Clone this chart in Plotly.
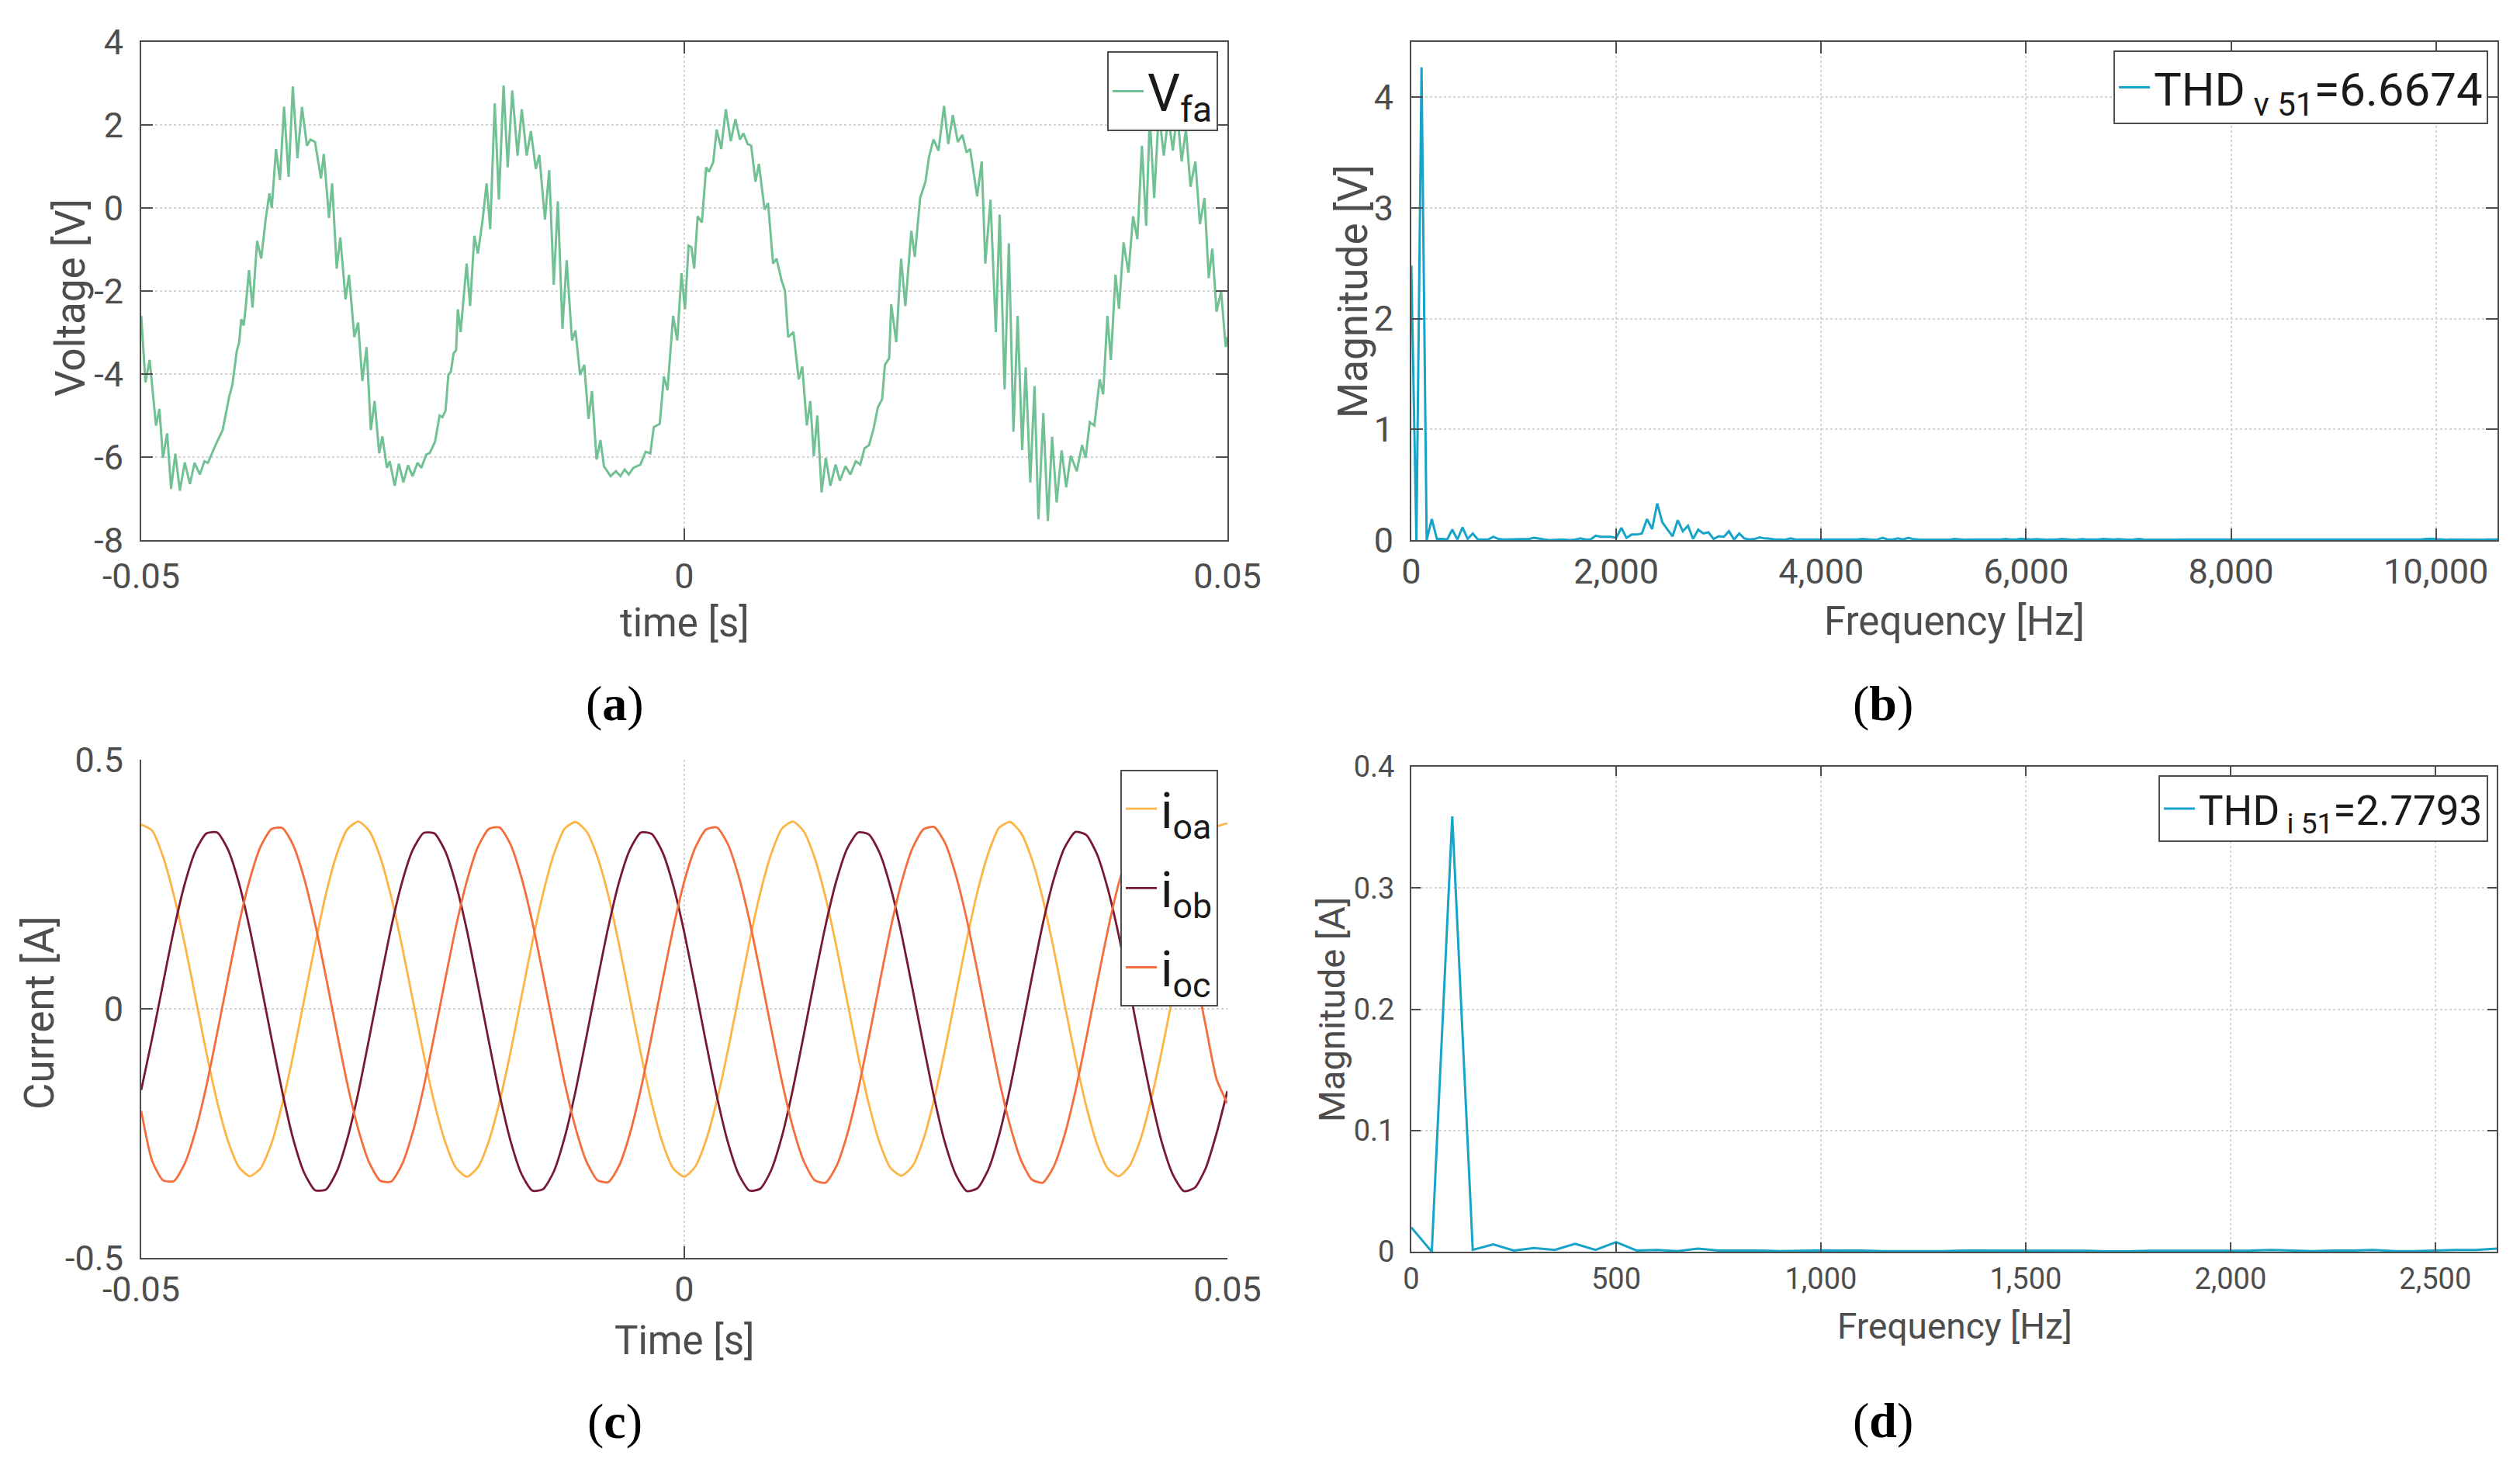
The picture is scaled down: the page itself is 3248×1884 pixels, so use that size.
import plotly.graph_objects as go

# ---------------- data ----------------
# (a) phase voltage V_fa : time [ms], voltage [V]
va_t_ms = [-50.00, -49.61, -49.22, -48.64, -48.32, -48.00, -47.61, -47.25, -46.86, -46.44,
           -45.99, -45.51, -45.09, -44.60, -44.18, -43.86, -43.15, -42.50, -41.92, -41.60,
           -41.21, -40.98, -40.79, -40.56, -40.37, -40.08, -39.75, -39.33, -38.95, -38.56,
           -38.20, -37.98, -37.59, -37.23, -36.85, -36.43, -36.04, -35.62, -35.20, -34.74,
           -34.42, -34.00, -33.45, -33.19, -32.71, -32.42, -32.00, -31.67, -31.19, -30.87,
           -30.38, -30.03, -29.64, -29.25, -28.86, -28.51, -28.09, -27.80, -27.38, -27.12,
           -26.66, -26.28, -25.86, -25.44, -25.02, -24.56, -24.21, -23.76, -23.43, -22.95,
           -22.53, -22.27, -21.98, -21.72, -21.49, -21.24, -21.01, -20.85, -20.59, -20.04,
           -19.72, -19.33, -19.00, -18.58, -18.20, -17.87, -17.45, -17.07, -16.64, -16.26,
           -15.84, -15.35, -14.96, -14.51, -14.12, -13.67, -13.35, -12.83, -12.44, -12.02,
           -11.64, -11.22, -10.83, -10.34, -10.02, -9.60, -9.21, -8.82, -8.50, -8.08,
           -7.72, -7.40, -6.79, -6.30, -5.88, -5.49, -5.11, -4.69, -4.04, -3.56,
           -3.13, -2.81, -2.26, -1.88, -1.55, -1.03, -0.65, -0.26,
           0.06, 0.39, 0.65, 0.91, 1.23, 1.62, 2.01, 2.27, 2.66, 2.98,
           3.40, 3.82, 4.28, 4.70, 5.12, 5.44, 5.83, 6.16, 6.55, 6.87,
           7.39, 7.71, 8.17, 8.49, 8.94, 9.27, 9.56, 10.05, 10.53, 10.86,
           11.28, 11.60, 11.92, 12.25, 12.64, 13.03, 13.45, 13.93, 14.32, 14.84,
           15.29, 15.78, 16.20, 16.59, 17.01, 17.43, 17.82, 18.21, 18.47, 18.86,
           19.05, 19.51, 19.96, 20.35, 20.90, 21.22, 21.71, 22.20, 22.52, 22.94,
           23.40, 23.91, 24.30, 24.72, 25.18, 25.60, 25.99, 26.31, 26.96, 27.38,
           27.71, 28.19, 28.68, 29.03, 29.49, 29.88, 30.30, 30.69, 31.11, 31.43,
           31.85, 32.24, 32.60, 33.05, 33.47, 33.86, 34.28, 34.74, 35.16, 35.58,
           36.13, 36.62, 36.94, 37.33, 37.75, 38.24, 38.56, 38.95, 39.27, 39.70,
           40.02, 40.44, 40.89, 41.32, 41.71, 42.13, 42.52, 42.85, 43.26, 43.69,
           44.14, 44.56, 44.98, 45.37, 45.79, 46.18, 46.60, 47.05, 47.47, 47.89,
           48.28, 48.61, 49.00, 49.42, 49.84, 50.00]
va_volt = [-2.60, -4.20, -3.66, -5.24, -4.84, -6.02, -5.43, -6.77, -5.92, -6.81,
           -6.13, -6.65, -6.14, -6.42, -6.10, -6.14, -5.71, -5.35, -4.57, -4.25,
           -3.46, -3.23, -2.68, -2.83, -2.36, -1.50, -2.40, -0.79, -1.22, -0.31,
           0.35, 0.00, 1.42, 0.67, 2.44, 0.75, 2.93, 1.20, 2.43, 1.50,
           1.65, 1.59, 0.71, 1.30, -0.24, 0.59, -1.46, -0.71, -2.20, -1.61,
           -3.11, -2.76, -4.17, -3.35, -5.35, -4.65, -5.91, -5.50, -6.26, -6.10,
           -6.69, -6.16, -6.61, -6.20, -6.46, -6.14, -6.26, -5.94, -5.90, -5.63,
           -5.00, -5.04, -4.88, -4.02, -3.94, -3.50, -3.43, -2.44, -2.99, -1.34,
           -2.36, -0.67, -1.10, -0.31, 0.59, -0.51, 2.52, 0.20, 2.95, 0.98,
           2.83, 1.26, 2.38, 1.26, 1.85, 0.94, 1.28, -0.28, 0.91, -1.85,
           0.16, -2.91, -1.26, -3.19, -2.95, -4.02, -3.78, -5.08, -4.41, -6.06,
           -5.59, -6.22, -6.46, -6.34, -6.46, -6.30, -6.42, -6.26, -6.18, -5.87,
           -5.91, -5.28, -5.20, -4.06, -4.39, -2.60, -3.19, -1.57,
           -2.44, -0.91, -0.94, -1.46, -0.20, -0.35, 0.98, 0.87, 1.10, 1.89,
           1.42, 2.38, 1.61, 2.14, 1.65, 1.80, 1.54, 1.50, 0.63, 1.06,
           -0.04, 0.12, -1.34, -1.22, -1.73, -2.00, -3.11, -2.99, -4.13, -3.82,
           -5.24, -4.65, -5.98, -5.00, -6.85, -6.02, -6.69, -6.18, -6.57, -6.22,
           -6.42, -6.10, -6.18, -5.79, -5.71, -5.31, -4.80, -4.61, -3.78, -3.62,
           -2.32, -3.23, -1.22, -2.36, -0.55, -1.18, 0.24, 0.63, 1.22, 1.65,
           1.38, 2.46, 1.54, 2.24, 1.59, 1.76, 1.34, 1.42, 0.28, 1.12,
           -1.34, 0.20, -2.99, -0.16, -4.37, -0.85, -5.39, -2.60, -5.83, -3.84,
           -6.61, -4.29, -7.50, -4.94, -7.54, -5.51, -7.09, -5.84, -6.73, -5.97,
           -6.34, -5.71, -6.02, -5.16, -5.24, -4.13, -4.49, -2.60, -3.66, -1.61,
           -2.43, -0.83, -1.56, -0.20, -0.75, 1.50, -0.43, 2.20, 0.24, 2.35,
           1.26, 2.20, 1.38, 2.30, 1.12, 1.90, 0.51, 1.12, -0.39, 0.24,
           -1.69, -0.98, -2.50, -2.00, -3.35, -3.11]

# (b) voltage spectrum, 50 Hz bins from 0 Hz
fb_step_hz = 50
vb_mag = [2.48, 0.0, 4.27, 0.0, 0.19, 0.01, 0.01, 0.005, 0.095, 0.005,
          0.115, 0.01, 0.06, 0.005, 0.005, 0.005, 0.03, 0.01, 0.005, 0.005,
          0.005, 0.005, 0.005, 0.01, 0.02, 0.01, 0.005, 0.0, 0.005, 0.005,
          0.003, 0.0, 0.005, 0.015, 0.005, 0.005, 0.04, 0.03, 0.03, 0.03,
          0.02, 0.11, 0.02, 0.05, 0.05, 0.06, 0.19, 0.10, 0.33, 0.16,
          0.095, 0.035, 0.18, 0.08, 0.13, 0.01, 0.095, 0.06, 0.07, 0.01,
          0.035, 0.03, 0.08, 0.005, 0.06, 0.015, 0.005, 0.01, 0.025, 0.015,
          0.012, 0.005, 0.005, 0.003, 0.015, 0.005, 0.005, 0.005, 0.005, 0.005,
          0.005,
          0.005, 0.003, 0.005, 0.008, 0.005, 0.004, 0.005, 0.01, 0.005, 0.004,
          0.006, 0.02, 0.005, 0.005, 0.015, 0.005, 0.02, 0.008, 0.005, 0.004,
          0.005, 0.004, 0.006, 0.005, 0.004, 0.01, 0.005, 0.004, 0.005, 0.006,
          0.005, 0.004, 0.008, 0.005, 0.005, 0.01, 0.005, 0.005, 0.012, 0.006,
          0.005, 0.008, 0.005, 0.004, 0.006, 0.005, 0.01, 0.005, 0.004, 0.005,
          0.008, 0.005, 0.004, 0.006, 0.01, 0.005, 0.005, 0.008, 0.005, 0.004,
          0.006, 0.01, 0.005, 0.004, 0.008, 0.005, 0.006, 0.005, 0.004, 0.005,
          0.005, 0.006, 0.004, 0.005, 0.008, 0.005, 0.004, 0.006, 0.005, 0.004,
          0.005, 0.008, 0.005, 0.004, 0.005, 0.006, 0.004, 0.005, 0.008, 0.005,
          0.004, 0.005, 0.006, 0.005, 0.004, 0.005, 0.008, 0.005, 0.004, 0.005,
          0.006, 0.005, 0.004, 0.005, 0.005, 0.008, 0.004, 0.005, 0.006, 0.005,
          0.004, 0.005, 0.005, 0.006, 0.004, 0.005, 0.005, 0.01, 0.012, 0.008,
          0.005, 0.004, 0.006, 0.005, 0.004, 0.005, 0.006, 0.005, 0.004, 0.005,
          0.005, 0.006]
fb_hz = [i * fb_step_hz for i in range(len(vb_mag))]

# (c) output currents, 1 ms samples from -50 ms to 50 ms
ic_t_ms = list(range(-50, 51))
i_oa = [0.370, 0.358, 0.306, 0.228, 0.131, 0.022, -0.088, -0.187, -0.266, -0.318,
        -0.336, -0.320, -0.270, -0.190, -0.092, 0.018, 0.128, 0.230, 0.310, 0.361,
        0.376, 0.357, 0.305, 0.226, 0.127, 0.018, -0.091, -0.190, -0.268, -0.320,
        -0.337, -0.318, -0.266, -0.186, -0.087, 0.023, 0.133, 0.232, 0.311, 0.362,
        0.375, 0.356, 0.305, 0.228, 0.128, 0.019, -0.090, -0.189, -0.269, -0.321,
        -0.337, -0.317, -0.264, -0.184, -0.085, 0.025, 0.135, 0.233, 0.311, 0.362,
        0.376, 0.356, 0.303, 0.224, 0.125, 0.015, -0.094, -0.192, -0.270, -0.320,
        -0.335, -0.316, -0.263, -0.182, -0.082, 0.028, 0.138, 0.236, 0.313, 0.364,
        0.375, 0.353, 0.300, 0.221, 0.121, 0.011, -0.098, -0.195, -0.272, -0.321,
        -0.336, -0.315, -0.262, -0.180, -0.080, 0.030, 0.140, 0.238, 0.315, 0.365,
        0.372]
i_ob = [-0.163, -0.060, 0.050, 0.158, 0.250, 0.317, 0.352, 0.354, 0.319, 0.252,
        0.160, 0.052, -0.060, -0.168, -0.262, -0.329, -0.364, -0.363, -0.327, -0.259,
        -0.167, -0.058, 0.054, 0.162, 0.253, 0.319, 0.353, 0.352, 0.316, 0.248,
        0.156, 0.047, -0.065, -0.173, -0.265, -0.331, -0.365, -0.362, -0.326, -0.257,
        -0.164, -0.055, 0.057, 0.164, 0.255, 0.320, 0.354, 0.351, 0.314, 0.246,
        0.153, 0.044, -0.068, -0.176, -0.267, -0.332, -0.365, -0.361, -0.324, -0.255,
        -0.161, -0.052, 0.060, 0.167, 0.257, 0.322, 0.354, 0.350, 0.312, 0.243,
        0.150, 0.041, -0.071, -0.178, -0.269, -0.333, -0.366, -0.360, -0.322, -0.252,
        -0.158, -0.049, 0.063, 0.170, 0.259, 0.323, 0.355, 0.349, 0.310, 0.240,
        0.147, 0.038, -0.074, -0.181, -0.271, -0.334, -0.366, -0.359, -0.320, -0.250,
        -0.165]
i_oc = [-0.205, -0.305, -0.344, -0.346, -0.311, -0.245, -0.155, -0.048, 0.063, 0.170,
        0.260, 0.326, 0.361, 0.363, 0.328, 0.262, 0.172, 0.065, -0.046, -0.153,
        -0.243, -0.309, -0.345, -0.347, -0.313, -0.248, -0.158, -0.051, 0.060, 0.167,
        0.258, 0.325, 0.361, 0.364, 0.330, 0.264, 0.175, 0.068, -0.043, -0.150,
        -0.240, -0.307, -0.344, -0.348, -0.315, -0.250, -0.161, -0.054, 0.057, 0.164,
        0.256, 0.323, 0.360, 0.364, 0.331, 0.266, 0.177, 0.071, -0.040, -0.147,
        -0.238, -0.306, -0.344, -0.349, -0.316, -0.252, -0.163, -0.057, 0.054, 0.162,
        0.254, 0.322, 0.360, 0.365, 0.333, 0.268, 0.180, 0.074, -0.037, -0.144,
        -0.235, -0.304, -0.343, -0.349, -0.317, -0.254, -0.166, -0.060, 0.051, 0.159,
        0.252, 0.320, 0.359, 0.365, 0.334, 0.270, 0.182, 0.076, -0.034, -0.141,
        -0.190]

# (d) current spectrum, 50 Hz bins from 0 Hz
fd_step_hz = 50
id_mag = [0.020, 0.0, 0.359, 0.0015, 0.006, 0.001, 0.003, 0.0015, 0.0065, 0.0015,
          0.008, 0.001, 0.0015, 0.0005, 0.0025, 0.001, 0.001, 0.001, 0.0005, 0.001,
          0.0012, 0.001, 0.001, 0.0005, 0.0005, 0.0005, 0.0005, 0.001, 0.001, 0.001,
          0.001, 0.001, 0.001, 0.0008, 0.0003, 0.0003, 0.0008, 0.0008, 0.001, 0.0008,
          0.001, 0.001, 0.0015, 0.0012, 0.0005, 0.001, 0.001, 0.0015, 0.0005, 0.0005,
          0.001, 0.0015, 0.0015, 0.0025]
fd_hz = [i * fd_step_hz for i in range(len(id_mag))]

# tick labels
time_ticks = [-0.05, 0, 0.05]
time_ticktext = ["-0.05", "0", "0.05"]
va_ticks = [-8, -6, -4, -2, 0, 2, 4]
va_ticktext = ["-8", "-6", "-4", "-2", "0", "2", "4"]
vb_ticks = [0, 1, 2, 3, 4]
fb_ticks = [0, 2000, 4000, 6000, 8000, 10000]
fb_ticktext = ["0", "2,000", "4,000", "6,000", "8,000", "10,000"]
ic_ticks = [-0.5, 0, 0.5]
ic_ticktext = ["-0.5", "0", "0.5"]
id_ticks = [0, 0.1, 0.2, 0.3, 0.4]
fd_ticks = [0, 500, 1000, 1500, 2000, 2500]
fd_ticktext = ["0", "500", "1,000", "1,500", "2,000", "2,500"]

# ---------------- styling ----------------
W, H = 3248, 1884
AX = "#4d4d4d"
GRID = "#d4d4d4"
SANS = "Roboto, 'Noto Sans', sans-serif"
C_GREEN = "#72c195"
C_BLUE = "#18a3c8"
C_OA = "#fdb445"
C_OB = "#771835"
C_OC = "#f46d3b"


def px_x(px):
    return px / W


def px_y(px):
    return 1 - px / H


def axis(domain, rng, tickvals, ticktext, anchor, mirror=True, font=45, ticklen=15):
    d = dict(domain=domain, range=rng, tickvals=tickvals, anchor=anchor,
             showline=True, linecolor=AX, linewidth=2, automargin=False,
             ticks="inside", ticklen=ticklen, tickwidth=2, tickcolor=AX,
             mirror="ticks" if mirror else False,
             showgrid=True, gridcolor=GRID, gridwidth=1.5, griddash="dot",
             zeroline=False, tickfont=dict(family=SANS, size=font, color=AX),
             fixedrange=True)
    if ticktext is not None:
        d["ticktext"] = ticktext
    return d


fig = go.Figure()

fig.add_trace(go.Scatter(x=[t / 1000 for t in va_t_ms], y=va_volt, mode="lines",
                         line=dict(color=C_GREEN, width=3),
                         name="V<sub>fa</sub>", xaxis="x", yaxis="y", legend="legend"))
fig.add_trace(go.Scatter(x=fb_hz, y=vb_mag, mode="lines",
                         line=dict(color=C_BLUE, width=3),
                         name="THD<sub> v 51</sub>=6.6674", xaxis="x2", yaxis="y2", legend="legend2"))
for name, vals, col, grp in [("i<sub>oa</sub>", i_oa, C_OA, "oa"), ("i<sub>ob</sub>", i_ob, C_OB, "ob"),
                             ("i<sub>oc</sub>", i_oc, C_OC, "oc")]:
    fig.add_trace(go.Scatter(x=[t / 1000 for t in ic_t_ms], y=vals, mode="lines",
                             line=dict(color=col, width=2.8, shape="spline", smoothing=0.6),
                             name=name, legendgroup=grp,
                             xaxis="x3", yaxis="y3", legend="legend3"))
fig.add_trace(go.Scatter(x=fd_hz, y=id_mag, mode="lines",
                         line=dict(color=C_BLUE, width=3),
                         name="THD<sub> i 51</sub>=2.7793", xaxis="x4", yaxis="y4", legend="legend4"))

dom_left = [px_x(174), px_x(1574)]
dom_right = [px_x(1811), px_x(3211)]

layout = dict(
    width=W, height=H, margin=dict(l=0, r=0, t=0, b=0, autoexpand=False),
    paper_bgcolor="white", plot_bgcolor="white", showlegend=True,
    xaxis=axis(dom_left, [-0.05, 0.05], time_ticks, time_ticktext, "y"),
    yaxis=axis([px_y(688), px_y(46)], [-8, 4], va_ticks, va_ticktext, "x"),
    xaxis2=axis(dom_right, [0, 10600], fb_ticks, fb_ticktext, "y2"),
    yaxis2=axis([px_y(688), px_y(46)], [0, 4.5], vb_ticks, None, "x2"),
    xaxis3=axis(dom_left, [-0.05, 0.05], time_ticks, time_ticktext, "y3", mirror=False),
    yaxis3=axis([px_y(1613), px_y(971)], [-0.5, 0.5], ic_ticks, ic_ticktext, "x3", mirror=False),
    xaxis4=axis([px_x(1811), px_x(3210)], [0, 2650], fd_ticks, fd_ticktext, "y4", font=38, ticklen=12),
    yaxis4=axis([px_y(1605), px_y(980)], [0, 0.4], id_ticks, None, "x4", font=38, ticklen=12),
)
for k in ["yaxis", "yaxis2", "yaxis3", "yaxis4"]:
    layout[k]["ticklabelstandoff"] = 12
for k in ["xaxis2", "xaxis3", "xaxis4"]:
    layout[k]["ticklabelstandoff"] = 0
layout["xaxis"]["ticklabelstandoff"] = 6


def legend(right_px, top_px, size, gap=0):
    return dict(x=px_x(right_px), y=px_y(top_px), xanchor="right", yanchor="top",
                xref="paper", yref="paper", bgcolor="white", bordercolor=AX, borderwidth=2,
                font=dict(family=SANS, size=size, color="#1a1a1a"),
                itemwidth=40, tracegroupgap=gap)


layout["legend"] = legend(1562, 58, 66)
layout["legend2"] = legend(3199, 57, 60)
layout["legend3"] = legend(1562, 984, 64, gap=16)
layout["legend4"] = legend(3199, 991, 53)

fig.update_layout(**layout)

annos = [
    ("time [s]", 874, 795, 0, 51),
    ("Frequency [Hz]", 2511, 792, 0, 51),
    ("Time [s]", 874, 1719, 0, 51),
    ("Frequency [Hz]", 2511, 1701, 0, 46),
    ("Voltage [V]", 83, 376, -90, 53),
    ("Magnitude [V]", 1736, 367, -90, 53),
    ("Current [A]", 43, 1297, -90, 53),
    ("Magnitude [A]", 1708, 1293, -90, 47),
]
for text, x, y, ang, size in annos:
    fig.add_annotation(text=text, x=px_x(x), y=px_y(y), xref="paper", yref="paper",
                       showarrow=False, textangle=ang, xanchor="center", yanchor="middle",
                       font=dict(family=SANS, size=size, color=AX))

for lab, x, y in [("a", 784, 898), ("b", 2419, 898), ("c", 784, 1823), ("d", 2419, 1822)]:
    fig.add_annotation(text=f"(<b>{lab}</b>)", x=px_x(x), y=px_y(y), xref="paper", yref="paper",
                       showarrow=False, xanchor="center", yanchor="middle",
                       font=dict(family="'Liberation Serif', 'DejaVu Serif', serif", size=64, color="black"))

fig.write_html("out.html")
